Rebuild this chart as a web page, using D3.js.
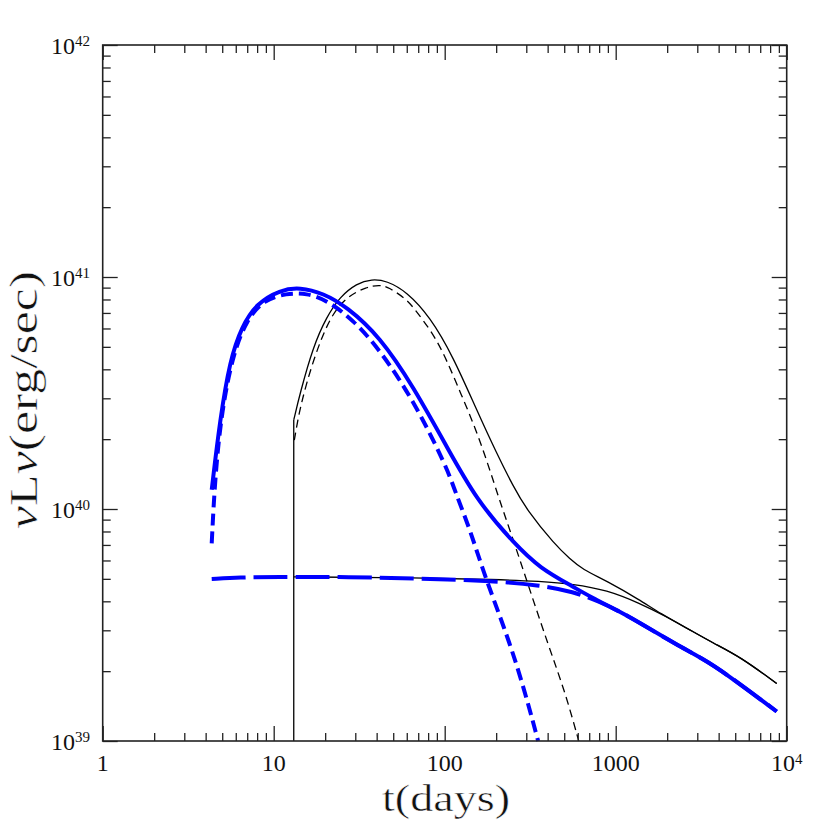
<!DOCTYPE html>
<html>
<head>
<meta charset="utf-8">
<script src="https://cdn.jsdelivr.net/npm/d3@7"></script>
<style>
  html, body { margin: 0; padding: 0; background: #fff; }
  svg { display: block; }
  text { font-family: "Liberation Serif", "DejaVu Serif", serif; fill: #111; }
</style>
</head>
<body>
<svg id="chart" width="830" height="830"></svg>
<script>
// ---------------- data (t in days, nuLnu in erg/s) ----------------
const blueSolid = [
  [4.34, 1.21e40], [4.85, 2.42e40], [5.55, 4.39e40], [6.50, 6.11e40], [7.95, 7.70e40],
  [10.9, 8.79e40], [14.2, 9.03e40], [19.5, 8.51e40], [26.7, 7.45e40], [41.8, 5.53e40],
  [65.5, 3.37e40], [102.7, 1.86e40], [153.8, 1.09e40], [256, 7.07e39], [361, 5.55e39],
  [565, 4.62e39], [707, 4.19e39], [1099, 3.56e39], [1387, 3.22e39], [2276, 2.60e39],
  [3240, 2.26e39], [4298, 1.98e39], [8740, 1.34e39]
];
const blueShortDash = [
  [4.34, 7.11e39], [4.54, 1.38e40], [4.97, 2.67e40], [5.80, 4.69e40], [6.95, 6.53e40],
  [8.70, 7.96e40], [11.9, 8.51e40], [15.6, 8.51e40], [20.4, 7.96e40], [29.2, 6.53e40],
  [41.8, 4.85e40], [65.5, 2.95e40], [102.7, 1.52e40], [116, 1.17e40], [142, 8.0e39],
  [170, 5.23e39], [224, 3.06e39], [281, 1.85e39], [352, 1.0e39]
];
const blueLongDash = [
  [4.34, 4.99e39], [6.35, 5.07e39], [9.9, 5.10e39], [27.9, 5.10e39], [71.7, 5.00e39],
  [178, 4.92e39], [361, 4.70e39], [565, 4.40e39], [810, 3.98e39], [1099, 3.56e39],
  [1387, 3.22e39], [2276, 2.60e39], [3240, 2.26e39], [4298, 1.98e39], [8740, 1.34e39]
];
const blackRise = [[13.1, 1.0e39], [13.1, 2.42e40]];
const blackSolid = [
  [13.1, 2.42e40], [14.25, 3.15e40], [17.0, 5.01e40], [20.4, 6.74e40], [24.4, 8.22e40],
  [30.6, 9.39e40], [37.4, 9.80e40], [45.8, 9.64e40], [59.9, 8.65e40], [82, 6.74e40],
  [112, 4.54e40], [153.8, 2.67e40], [201, 1.74e40], [252, 1.25e40], [302, 9.9e39],
  [442, 7.0e39], [540, 6.1e39], [637, 5.5e39], [886, 4.9e39], [1387, 4.05e39],
  [1816, 3.55e39], [2719, 3.01e39], [3722, 2.64e39], [5330, 2.31e39], [8740, 1.77e39]
];
const blackDash = [
  [13.2, 1.98e40], [14.25, 2.76e40], [17.0, 4.39e40], [21.3, 6.74e40], [26.7, 8.22e40],
  [35, 9.08e40], [41.8, 9.24e40], [47, 9.05e40], [59.9, 8.0e40], [65.5, 7.4e40],
  [85.8, 5.7e40], [102.7, 4.39e40], [123, 3.2e40], [161, 2.0e40], [209, 1.09e40],
  [245, 7.82e39], [307, 4.73e39], [404, 2.58e39], [507, 1.62e39], [608, 1.0e39]
];
const blackFlat = [
  [13.1, 5.10e39], [71.7, 5.05e39], [200, 4.97e39], [361, 4.88e39], [565, 4.75e39],
  [886, 4.48e39], [1387, 3.92e39], [1987, 3.43e39], [2719, 3.01e39], [3722, 2.64e39],
  [5330, 2.31e39], [8740, 1.77e39]
];

const xMajor = [1, 10, 100, 1000, 10000];
const xTickLabels = [["1", ""], ["10", ""], ["100", ""], ["1000", ""], ["10", "4"]];
const yMajor = [1e39, 1e40, 1e41, 1e42];
const yTickLabels = [["10", "39"], ["10", "40"], ["10", "41"], ["10", "42"]];
const minorMult = [2, 3, 4, 5, 6, 7, 8, 9];

// ---------------- layout ----------------
const L = 102.7, R = 786.7, T = 45, B = 741;
const svg = d3.select("#chart");
const x = d3.scaleLog().domain([1, 1e4]).range([L, R]);
const y = d3.scaleLog().domain([1e39, 1e42]).range([B, T]);

const xMinor = [];
xMajor.slice(0, -1).forEach(d => minorMult.forEach(m => xMinor.push(d * m)));
const yMinor = [];
yMajor.slice(0, -1).forEach(d => minorMult.forEach(m => yMinor.push(d * m)));

// ---------------- curves ----------------
const line = d3.line().x(d => x(d[0])).y(d => y(d[1])).curve(d3.curveBasis);
const lineLin = d3.line().x(d => x(d[0])).y(d => y(d[1]));

const plot = svg.append("g");
plot.append("path").datum(blackRise).attr("d", lineLin)
  .attr("fill", "none").attr("stroke", "#000").attr("stroke-width", 1.3);
plot.append("path").datum(blackFlat).attr("d", line)
  .attr("fill", "none").attr("stroke", "#000").attr("stroke-width", 1.3);
plot.append("path").datum(blackSolid).attr("d", line)
  .attr("fill", "none").attr("stroke", "#000").attr("stroke-width", 1.3);
plot.append("path").datum(blackDash).attr("d", line)
  .attr("fill", "none").attr("stroke", "#000").attr("stroke-width", 1.3)
  .attr("stroke-dasharray", "8,5");

plot.append("path").datum(blueLongDash).attr("d", line)
  .attr("fill", "none").attr("stroke", "#0000ff").attr("stroke-width", 4)
  .attr("stroke-dasharray", "34,8");
plot.append("path").datum(blueSolid).attr("d", line)
  .attr("fill", "none").attr("stroke", "#0000ff").attr("stroke-width", 4);
plot.append("path").datum(blueShortDash).attr("d", line)
  .attr("fill", "none").attr("stroke", "#0000ff").attr("stroke-width", 4)
  .attr("stroke-dasharray", "12,6");

// ---------------- axes (ticks inward on all four sides) ----------------
const axColor = "#222";
function styleAxis(g) {
  g.select(".domain").remove();
  g.selectAll("line").attr("stroke", axColor).attr("stroke-width", 1.3);
  g.selectAll("text").remove();
}
const mk = (axisFn, scale, vals, size) => axisFn(scale).tickValues(vals).tickSize(size).tickFormat("");

svg.append("g").attr("transform", `translate(0,${B})`).call(mk(d3.axisBottom, x, xMajor, -15)).call(styleAxis);
svg.append("g").attr("transform", `translate(0,${B})`).call(mk(d3.axisBottom, x, xMinor, -8)).call(styleAxis);
svg.append("g").attr("transform", `translate(0,${T})`).call(mk(d3.axisTop, x, xMajor, -15)).call(styleAxis);
svg.append("g").attr("transform", `translate(0,${T})`).call(mk(d3.axisTop, x, xMinor, -8)).call(styleAxis);
svg.append("g").attr("transform", `translate(${L},0)`).call(mk(d3.axisLeft, y, yMajor, -15)).call(styleAxis);
svg.append("g").attr("transform", `translate(${L},0)`).call(mk(d3.axisLeft, y, yMinor, -8)).call(styleAxis);
svg.append("g").attr("transform", `translate(${R},0)`).call(mk(d3.axisRight, y, yMajor, -15)).call(styleAxis);
svg.append("g").attr("transform", `translate(${R},0)`).call(mk(d3.axisRight, y, yMinor, -8)).call(styleAxis);

svg.append("rect").attr("x", L).attr("y", T).attr("width", R - L).attr("height", B - T)
  .attr("fill", "none").attr("stroke", axColor).attr("stroke-width", 1.6);

// ---------------- tick labels ----------------
xMajor.forEach((v, i) => {
  const [base, exp] = xTickLabels[i];
  const t = svg.append("text").attr("x", x(v)).attr("y", 771)
    .attr("text-anchor", "middle").attr("font-size", 24);
  t.append("tspan").text(base);
  if (exp) t.append("tspan").attr("font-size", 15).attr("dy", -7).text(exp);
});
yMajor.forEach((v, i) => {
  const [base, exp] = yTickLabels[i];
  const t = svg.append("text").attr("x", 90).attr("y", y(v) + 9)
    .attr("text-anchor", "end").attr("font-size", 24);
  t.append("tspan").text(base);
  t.append("tspan").attr("font-size", 15).attr("dy", -8).text(exp);
});

// ---------------- axis titles ----------------
svg.append("text").attr("x", 446).attr("y", 811).attr("text-anchor", "middle")
  .attr("font-size", 38).attr("textLength", 128).attr("lengthAdjust", "spacingAndGlyphs")
  .attr("stroke", "#fff").attr("stroke-width", 0.5)
  .text("t(days)");

const yt = svg.append("text").attr("transform", "translate(37,400) rotate(-90)")
  .attr("text-anchor", "middle").attr("font-size", 40)
  .attr("textLength", 258).attr("lengthAdjust", "spacingAndGlyphs")
  .attr("stroke", "#fff").attr("stroke-width", 0.5);
yt.append("tspan").attr("font-style", "italic").text("ν");
yt.append("tspan").text("L");
yt.append("tspan").attr("font-style", "italic").text("ν");
yt.append("tspan").text("(erg/sec)");
</script>
</body>
</html>
